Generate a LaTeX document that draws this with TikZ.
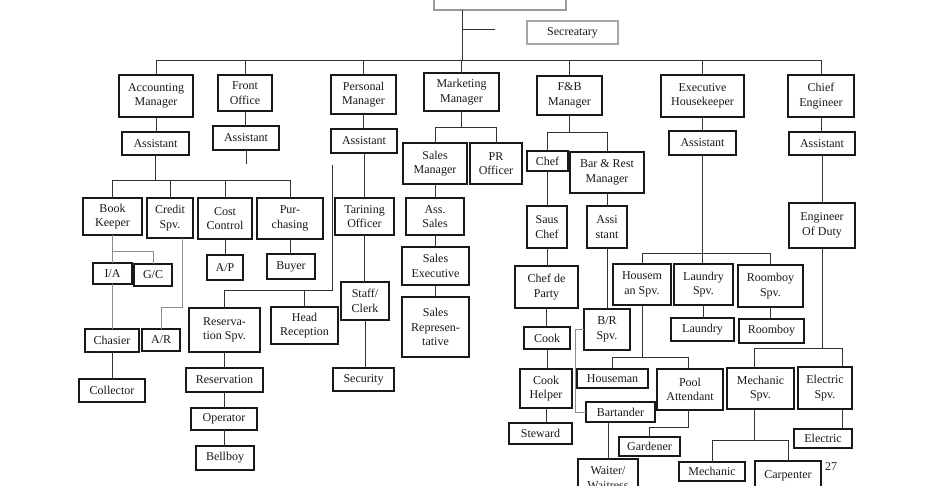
\documentclass[tikz,border=0pt]{standalone}
\usepackage{fontspec}
\setmainfont{Liberation Serif}
\newcommand\bx[7][]{\node[box,#1, minimum width={#5-#3}, minimum height={#6-#4}] (#2) at ({(#3+#5)/2},{(#4+#6)/2}) {#7};}
\begin{document}
\begin{tikzpicture}[x=1pt,y=-1pt,
  box/.style={draw=black!90, line width=1.2pt, fill=white, inner sep=0pt, outer sep=0pt, align=center, font=\fontsize{12}{14.5}\selectfont, text=black!90},
  ln/.style={draw=black!80, line width=0.9pt},
  gl/.style={draw=black!45, line width=0.9pt}]
\useasboundingbox (0,0) rectangle (925,485);
\clip (0,0) rectangle (925,485);
% nodes
\bx[draw=black!40]{gm}{434}{-20}{566}{10}{}
\bx[draw=black!35]{sec}{527}{21}{618}{44}{Secreatary}
\bx{am}{119}{75}{193}{117}{Accounting\\Manager}
\bx{fo}{218}{75}{272}{111}{Front\\Office}
\bx{pm}{331}{75}{396}{114}{Personal\\Manager}
\bx{mm}{424}{73}{499}{111}{Marketing\\Manager}
\bx{fb}{537}{76}{602}{115}{F\&B\\Manager}
\bx{eh}{661}{75}{744}{117}{Executive\\Housekeeper}
\bx{ce}{788}{75}{854}{117}{Chief\\Engineer}
\bx{aa}{122}{132}{189}{155}{Assistant}
\bx{foa}{213}{126}{279}{150}{Assistant}
\bx{pa}{331}{129}{397}{153}{Assistant}
\bx{eha}{669}{131}{736}{155}{Assistant}
\bx{cea}{789}{132}{855}{155}{Assistant}
\bx{bk}{83}{198}{142}{235}{Book\\Keeper}
\bx{cs}{147}{198}{193}{238}{Credit\\Spv.}
\bx{cc}{198}{198}{252}{239}{Cost\\Control}
\bx{pu}{257}{198}{323}{239}{Pur-\\chasing}
\bx{ia}{93}{263}{132}{284}{I/A}
\bx{gc}{134}{264}{172}{286}{G/C}
\bx{ap}{207}{255}{243}{280}{A/P}
\bx{buy}{267}{254}{315}{279}{Buyer}
\bx{cha}{85}{329}{139}{352}{Chasier}
\bx{ar}{142}{329}{180}{351}{A/R}
\bx{col}{79}{379}{145}{402}{Collector}
\bx{rs}{189}{308}{260}{352}{Reserva-\\tion Spv.}
\bx{hr}{271}{307}{338}{344}{Head\\Reception}
\bx{res}{186}{368}{263}{392}{Reservation}
\bx{op}{191}{408}{257}{430}{Operator}
\bx{bb}{196}{446}{254}{470}{Bellboy}
\bx{to}{335}{198}{394}{235}{Tarining\\Officer}
\bx{sc}{341}{282}{389}{320}{Staff/\\Clerk}
\bx{secu}{333}{368}{394}{391}{Security}
\bx{sm}{403}{143}{467}{184}{Sales\\Manager}
\bx{pr}{470}{143}{522}{184}{PR\\Officer}
\bx{as}{406}{198}{464}{235}{Ass.\\Sales}
\bx{se}{402}{247}{469}{285}{Sales\\Executive}
\bx{sr}{402}{297}{469}{357}{Sales\\Represen-\\tative}
\bx{chef}{527}{151}{568}{171}{Chef}
\bx{brm}{570}{152}{644}{193}{Bar \& Rest\\Manager}
\bx{sau}{527}{206}{567}{248}{Saus\\Chef}
\bx{ast}{587}{206}{627}{248}{Assi\\stant}
\bx{cdp}{515}{266}{578}{308}{Chef de\\Party}
\bx{cook}{524}{327}{570}{349}{Cook}
\bx{ckh}{520}{369}{572}{408}{Cook\\Helper}
\bx{stw}{509}{423}{572}{444}{Steward}
\bx{brs}{584}{309}{630}{350}{B/R\\Spv.}
\bx{bt}{586}{402}{655}{422}{Bartander}
\bx{wt}{578}{459}{638}{497}{Waiter/\\Waitress}
\bx{hs}{613}{264}{671}{305}{Housem\\an Spv.}
\bx{ls}{674}{264}{733}{305}{Laundry\\Spv.}
\bx{rbs}{738}{265}{803}{307}{Roomboy\\Spv.}
\bx{lau}{671}{318}{734}{341}{Laundry}
\bx{rb}{739}{319}{804}{343}{Roomboy}
\bx{hm}{577}{369}{648}{388}{Houseman}
\bx{pool}{657}{369}{723}{410}{Pool\\Attendant}
\bx{gar}{619}{437}{680}{456}{Gardener}
\bx{eod}{789}{203}{855}{248}{Engineer\\Of Duty}
\bx{ms}{727}{368}{794}{409}{Mechanic\\Spv.}
\bx{es}{798}{367}{852}{409}{Electric\\Spv.}
\bx{el}{794}{429}{852}{448}{Electric}
\bx{mech}{679}{462}{745}{481}{Mechanic}
\bx{carp}{755}{461}{821}{491}{Carpenter}
\node[font=\fontsize{12}{14.5}\selectfont, text=black!85, inner sep=0pt] (pg) at (831,467) {27};
% helper coordinates
\coordinate (gmd) at ([xshift=-38pt]gm.south);
\coordinate (busT) at (0,60);
\coordinate (secend) at (495,29);
\coordinate (busA) at (0,180);
\coordinate (busBK) at (0,251);
\coordinate (busAR) at (0,307);
\coordinate (csd) at ([xshift=12pt]cs.south);
\coordinate (fl) at (332,165);
\coordinate (busR) at (0,290);
\coordinate (busM) at (0,127);
\coordinate (busF) at (0,132);
\coordinate (busH) at (0,253);
\coordinate (busHS) at (0,357);
\coordinate (pad) at ([xshift=-2pt]pool.north);
\coordinate (pbs) at ([xshift=-2pt]pool.south);
\coordinate (busG) at (0,427);
\coordinate (busE) at (0,348);
\coordinate (msn) at ([xshift=-6.5pt]ms.north);
\coordinate (msd) at ([xshift=-6.5pt]ms.south);
\coordinate (esn) at ([xshift=17pt]es.north);
\coordinate (esd) at ([xshift=17pt]es.south);
\coordinate (busMe) at (0,440);
% top level
\draw[ln] (gmd) -- (gmd |- busT);
\draw[ln] (gmd |- secend) -- (secend);
\draw[ln] (am.north) -- (am.north |- busT) -- (ce.north |- busT) -- (ce.north);
\foreach \n in {fo,pm,mm,fb,eh} \draw[ln] (\n.north) -- (\n.north |- busT);
% accounting
\draw[ln] (am.south) -- (am.south |- aa.north);
\draw[ln] (aa.south) -- (aa.south |- busA);
\draw[ln] (bk.north) -- (bk.north |- busA) -- (pu.north |- busA) -- (pu.north);
\draw[ln] (cs.north) -- (cs.north |- busA);
\draw[ln] (cc.north) -- (cc.north |- busA);
\draw[gl] (bk.south) -- (bk.south |- ia.north);
\draw[gl] (bk.south |- busBK) -| (gc.north);
\draw[gl] (ia.south) -- (ia.south |- cha.north);
\draw[ln] (cha.south) -- (cha.south |- col.north);
\draw[gl] (csd) -- (csd |- busAR) -| (ar.north);
\draw[ln] (cc.south) -- (cc.south |- ap.north);
\draw[ln] (pu.south) -- (pu.south |- buy.north);
% front office
\draw[ln] (fo.south) -- (fo.south |- foa.north);
\draw[ln] (foa.south) -- ++(0,14);
\draw[ln] (fl) -- (fl |- busR) -| (rs.north);
\draw[ln] (hr.north) -- (hr.north |- busR);
\draw[ln] (rs.south) -- (rs.south |- res.north);
\draw[ln] (res.south) -- (res.south |- op.north);
\draw[ln] (op.south) -- (op.south |- bb.north);
% personal
\draw[ln] (pm.south) -- (pm.south |- pa.north);
\draw[ln] (pa.south) -- (pa.south |- to.north);
\draw[ln] (to.south) -- (to.south |- sc.north);
\draw[ln] (sc.south) -- (sc.south |- secu.north);
% marketing
\draw[ln] (mm.south) -- (mm.south |- busM);
\draw[ln] (sm.north) -- (sm.north |- busM) -- (pr.north |- busM) -- (pr.north);
\draw[ln] (sm.south) -- (sm.south |- as.north);
\draw[ln] (as.south) -- (as.south |- se.north);
\draw[ln] (se.south) -- (se.south |- sr.north);
% F&B
\draw[ln] (fb.south) -- (fb.south |- busF);
\draw[ln] (chef.north) -- (chef.north |- busF) -- (brm.north |- busF) -- (brm.north);
\draw[ln] (chef.south) -- (chef.south |- sau.north);
\draw[ln] (sau.south) -- (sau.south |- cdp.north);
\draw[ln] (cdp.south) -- (cdp.south |- cook.north);
\draw[ln] (cook.south) -- (cook.south |- ckh.north);
\draw[ln] (ckh.south) -- (ckh.south |- stw.north);
\draw[ln] (brm.south) -- (brm.south |- ast.north);
\draw[ln] (ast.south) -- (ast.south |- brs.north);
\draw[gl] (brs.west) -- ++(-9,0) |- (bt.west);
\draw[ln] (wt.north) -- (wt.north |- bt.south);
% housekeeping
\draw[ln] (eh.south) -- (eh.south |- eha.north);
\draw[ln] (eha.south) -- (eha.south |- ls.north);
\draw[ln] (hs.north) -- (hs.north |- busH) -- (rbs.north |- busH) -- (rbs.north);
\draw[ln] (ls.south) -- (ls.south |- lau.north);
\draw[ln] (rbs.south) -- (rbs.south |- rb.north);
\draw[ln] (hs.south) -- (hs.south |- busHS);
\draw[ln] (hm.north) -- (hm.north |- busHS) -- (pad |- busHS) -- (pad);
\draw[ln] (pbs) -- (pbs |- busG) -| (gar.north);
% engineering
\draw[ln] (ce.south) -- (ce.south |- cea.north);
\draw[ln] (cea.south) -- (cea.south |- eod.north);
\draw[ln] (eod.south) -- (eod.south |- busE);
\draw[ln] (msn) -- (msn |- busE) -- (esn |- busE) -- (esn);
\draw[ln] (esd) -- (esd |- el.north);
\draw[ln] (msd) -- (msd |- busMe);
\draw[ln] (mech.north) -- (mech.north |- busMe) -- (carp.north |- busMe) -- (carp.north);
\end{tikzpicture}
\end{document}
